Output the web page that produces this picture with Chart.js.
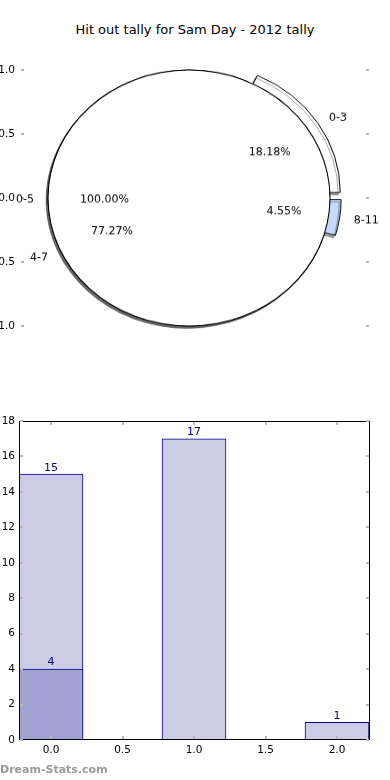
<!DOCTYPE html>
<html>
<head>
<meta charset="utf-8">
<script src="https://cdn.jsdelivr.net/npm/chart.js@4.4.0/dist/chart.umd.min.js"></script>
<style>
  body { margin: 0; width: 390px; height: 780px; position: relative; overflow: hidden; background: #fff; font-family: "DejaVu Sans", sans-serif; }
  canvas { position: absolute; }
  .pie { transform: scaleY(0.908); transform-origin: 50% 50%; }
  #title { position: absolute; left: 0; width: 390px; top: 22px; text-align: center; font-size: 13px; line-height: 16px; color: #000; }
  #credit { position: absolute; left: 0; top: 763px; font-size: 11px; font-weight: bold; color: #999; line-height: 14px; }
</style>
</head>
<body>
<div id="title">Hit out tally for Sam Day - 2012 tally</div>
<canvas id="pieAxes" width="390" height="340" style="left:0;top:0"></canvas>
<canvas id="pieUnder" class="pie" width="400" height="340" style="left:-11px;top:28px"></canvas>
<canvas id="pieOver" class="pie" width="400" height="340" style="left:-11px;top:28px"></canvas>
<canvas id="pieEdge" class="pie" width="400" height="340" style="left:-11px;top:28px"></canvas>
<canvas id="bars" width="390" height="380" style="left:0;top:400px"></canvas>
<div id="credit">Dream-Stats.com</div>
<script>
// pie data (matplotlib order, counter-clockwise from 3 o'clock)
const outerLabels = ['0-5'];
const outerValues = [15];
const groupLabels = ['0-3', '4-7', '8-11'];
const groupValues = [4, 17, 1];

// bar data
const barX = [0, 1, 2];
const tallyValues = [15, 17, 1];
const highlightX = [0];
const highlightValues = [4];
const yTicksPie = [-1, -0.5, 0, 0.5, 1];

const SQUISH = 0.908;
const R = 141;
const FONT = '"DejaVu Sans", sans-serif';

Chart.defaults.font.family = FONT;
Chart.defaults.font.size = 10.5;
Chart.defaults.color = '#000';

const innerTicks = {
  id: 'innerTicks',
  afterDraw(chart, args, opts) {
    const ctx = chart.ctx, a = chart.chartArea;
    ctx.save();
    if (opts.frame) {
      ctx.strokeStyle = '#000';
      ctx.lineWidth = 1;
      ctx.strokeRect(a.left + 0.5, a.top + 0.5, a.right - a.left - 1, a.bottom - a.top - 1);
    }
    ctx.strokeStyle = '#b8b8b8';
    ctx.lineWidth = 2;
    ctx.beginPath();
    Object.values(chart.scales).forEach(s => {
      if (!s.options.display) return;
      s.ticks.forEach((t, i) => {
        const p = Math.round(s.getPixelForTick(i));
        if (s.isHorizontal()) {
          ctx.moveTo(p, a.top + 1); ctx.lineTo(p, a.top + 4);
          ctx.moveTo(p, a.bottom - 1); ctx.lineTo(p, a.bottom - 4);
        } else {
          ctx.moveTo(a.left + 1, p); ctx.lineTo(a.left + 4, p);
          ctx.moveTo(a.right - 1, p); ctx.lineTo(a.right - 4, p);
        }
      });
    });
    ctx.stroke();
    ctx.restore();
  }
};

// pie axes (only the y ticks show)
new Chart(document.getElementById('pieAxes'), {
  type: 'scatter',
  data: { datasets: [] },
  options: {
    responsive: false, animation: false,
    layout: { padding: { top: 70, bottom: 14, left: 0, right: 0 } },
    plugins: { legend: { display: false }, tooltip: { enabled: false }, innerTicks: { frame: false } },
    scales: {
      x: { display: false, min: -1, max: 1 },
      y: {
        min: -1, max: 1,
        grid: { display: false, drawTicks: false }, border: { display: false },
        afterBuildTicks: s => { s.ticks = yTicksPie.map(v => ({ value: v })); },
        ticks: { padding: 5, callback: v => v.toFixed(1) },
        afterFit: s => { s.width = 20; }
      },
      y2: {
        type: 'linear', position: 'right', min: -1, max: 1,
        grid: { display: false, drawTicks: false }, border: { display: false },
        afterBuildTicks: s => { s.ticks = yTicksPie.map(v => ({ value: v })); },
        ticks: { display: false },
        afterFit: s => { s.width = 20; }
      }
    }
  },
  plugins: [innerTicks]
});

// matplotlib-like label placement
function drawPieLabels(ctx, chart, explode) {
  const meta = chart.getDatasetMeta(0);
  const labels = chart.data.labels;
  const values = chart.data.datasets[0].data;
  const total = values.reduce((s, v) => s + v, 0);
  ctx.save();
  ctx.fillStyle = '#000';
  ctx.font = '11px ' + FONT;
  ctx.textBaseline = 'middle';
  meta.data.forEach((arc, i) => {
    const mid = (arc.startAngle + arc.endAngle) / 2;
    const ex = explode[i] * R;
    const cx = Math.cos(mid), cy = Math.sin(mid);
    const put = (txt, dist, align) => {
      ctx.save();
      ctx.translate(arc.x + cx * (ex + dist * R), arc.y + cy * (ex + dist * R) + 1.5);
      ctx.scale(1, 1 / SQUISH);
      ctx.textAlign = align;
      ctx.fillText(txt, 0, 0);
      ctx.restore();
    };
    put(labels[i], 1.1, cx > 0 ? 'left' : 'right');
    put((values[i] / total * 100).toFixed(2) + '%', 0.6, 'center');
  });
  ctx.restore();
}

const shadow = {
  id: 'shadow',
  beforeDatasetsDraw(chart) {
    const ctx = chart.ctx;
    ctx.save();
    ctx.shadowColor = 'rgba(0,0,0,0.35)';
    ctx.shadowOffsetX = -2;
    ctx.shadowOffsetY = 2.5;
    ctx.shadowBlur = 0;
  },
  afterDatasetsDraw(chart) { chart.ctx.restore(); }
};

// Chart.js draws clockwise, so the slices go in reverse order
const groupExplode = [0.08, 0, 0.08];
const pieUnder = new Chart(document.getElementById('pieUnder'), {
  type: 'pie',
  data: {
    labels: groupLabels.slice().reverse(),
    datasets: [{
      data: groupValues.slice().reverse(),
      backgroundColor: ['#c7d9fd', '#ffffff', '#ffffff'],
      borderColor: '#000',
      borderWidth: 1,
      offset: [26, 0, 44]
    }]
  },
  options: {
    responsive: false, animation: false, rotation: 90, radius: R,
    plugins: { legend: { display: false }, tooltip: { enabled: false } }
  },
  plugins: [shadow]
});

// the single 100% slice: white fill here, its outline as a thin ring on top
new Chart(document.getElementById('pieOver'), {
  type: 'pie',
  data: {
    labels: outerLabels,
    datasets: [{ data: outerValues, backgroundColor: '#ffffff', borderWidth: 0 }]
  },
  options: {
    responsive: false, animation: false, rotation: 90, radius: R,
    plugins: { legend: { display: false }, tooltip: { enabled: false } }
  },
  plugins: [shadow, {
    id: 'pieLabels',
    afterDraw(chart) {
      drawPieLabels(chart.ctx, pieUnder, groupExplode.slice().reverse());
      drawPieLabels(chart.ctx, chart, [0]);
    }
  }]
});

new Chart(document.getElementById('pieEdge'), {
  type: 'doughnut',
  data: {
    labels: outerLabels,
    datasets: [{ data: outerValues, backgroundColor: '#000000', borderWidth: 0 }]
  },
  options: {
    responsive: false, animation: false, rotation: 90, radius: R + 0.55,
    cutout: ((R - 0.55) / (R + 0.55) * 100) + '%',
    plugins: { legend: { display: false }, tooltip: { enabled: false } }
  }
});

// bar chart
const barLabels = {
  id: 'barLabels',
  afterDatasetsDraw(chart) {
    const ctx = chart.ctx;
    ctx.save();
    ctx.fillStyle = '#000080';
    ctx.font = '11px ' + FONT;
    ctx.textAlign = 'center';
    ctx.textBaseline = 'bottom';
    chart.data.datasets.forEach((ds, di) => {
      chart.getDatasetMeta(di).data.forEach((bar, i) => {
        ctx.fillText(String(ds.data[i].y), bar.x, bar.y - 1);
      });
    });
    ctx.restore();
  }
};

const X_MIN = -32 / 143;
const X_MAX = X_MIN + 351 / 143;

new Chart(document.getElementById('bars'), {
  type: 'bar',
  data: {
    datasets: [
      {
        data: highlightX.map((x, i) => ({ x, y: highlightValues[i] })),
        backgroundColor: '#a3a3d3', borderColor: '#000080', borderWidth: 1,
        borderSkipped: false, order: 0
      },
      {
        data: barX.map((x, i) => ({ x, y: tallyValues[i] })),
        backgroundColor: '#ccccE6', borderColor: '#000080', borderWidth: 1,
        borderSkipped: false, order: 1
      }
    ]
  },
  options: {
    responsive: false, animation: false,
    grouped: false, barPercentage: 1, categoryPercentage: 1, maxBarThickness: 64,
    layout: { padding: { top: 21, right: 20, bottom: 18, left: 0 } },
    plugins: { legend: { display: false }, tooltip: { enabled: false }, innerTicks: { frame: true } },
    scales: {
      x: {
        type: 'linear', min: X_MIN, max: X_MAX, offset: false,
        grid: { display: false, drawTicks: false }, border: { display: false },
        ticks: { stepSize: 0.5, includeBounds: false, padding: 4, callback: v => v.toFixed(1) },
        afterFit: s => { s.height = 22; }
      },
      y: {
        min: 0, max: 18,
        grid: { display: false, drawTicks: false }, border: { display: false },
        ticks: { stepSize: 2, padding: 4 },
        afterFit: s => { s.width = 19; }
      }
    }
  },
  plugins: [innerTicks, barLabels]
});
</script>
</body>
</html>
